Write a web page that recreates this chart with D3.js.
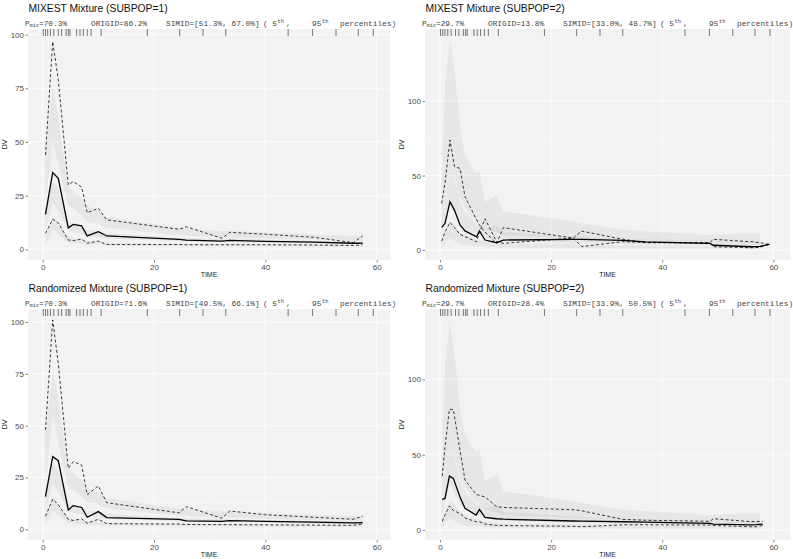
<!DOCTYPE html>
<html><head><meta charset="utf-8">
<script src="https://cdn.jsdelivr.net/npm/d3@7"></script>
<style>body{margin:0;background:#fff}svg{display:block}</style>
</head><body><svg id="c" width="793" height="559"></svg>
<script>
// ---------- data ----------
const rugTimes = [0.1,0.5,0.9,1.4,2.0,2.8,3.4,4.2,4.6,4.9,6.1,6.7,7.3,8.0,8.7,10.5,18.8,24.6,28.8,32.9,44.1,48.5,52.7,56.7,59.4];
const xTicks = [0,20,40,60];

// Top-left: MIXEST SUBPOP=1
const tlTitle = "MIXEST Mixture (SUBPOP=1)";
const tlStats = ["70.3%","86.2%","51.3%","67.0%"];
const tlTimes = [0.5,1.8,2.8,4.6,5.5,7.0,8.0,10.0,11.5,24.5,25.8,32.2,33.6,40,48.6,55.8,57.5];
const tlMedian = [16.3,35.7,33,10,11.6,10.9,6.2,8.2,6.2,4.6,4.3,3.8,4.1,3.7,3.3,2.8,2.9];
const tlP95 = [43.9,96.7,79,30,31.5,29,17,19.1,13.7,9.3,10.5,5.1,7.9,7.0,5.6,3.1,6.2];
const tlP5 = [7.4,14,12.3,4.3,4.0,4.8,2.8,3.8,2.2,2.2,2.1,2.1,2.1,2.1,2.0,1.8,2.1];
const tlRibTimes = [0.5,1.8,2.8,4.6,5.5,7.0,8.0,10.0,11.5,24.5,32.2,33.6,48.6,57.5];
const tlCI95Lo = [22,50,40,20,19,16,13,12,10,6.5,5.5,5.5,4.5,3.8];
const tlCI95Hi = [45,76,62,29,27,24,20,18,15,10,8.5,8.5,7,6];
const tlCI50Lo = [9,22,18,8.5,8,7,6,5.5,5,3.8,3.4,3.4,2.8,2.4];
const tlCI50Hi = [18,32,28,13,12,10.5,9,8.5,7.5,5.3,4.8,4.8,4,3.5];
const tlCI5Lo = [2,9,7,3,2.8,2.5,2.2,2,1.8,1.5,1.4,1.4,1.3,1.2];
const tlCI5Hi = [6,15,12,5.5,5,4.5,4,3.5,3.2,2.5,2.3,2.3,2.1,2];
const tlYTicks = [0,25,50,75,100];

// Top-right: MIXEST SUBPOP=2
const trTitle = "MIXEST Mixture (SUBPOP=2)";
const trStats = ["29.7%","13.8%","33.0%","48.7%"];
const trTimes = [0.3,0.9,1.8,2.6,3.6,4.5,6.6,7.1,8.1,10.2,11.4,24,25.5,32.9,37,48.6,49.2,56.2,57.6,59.3];
const trMedian = [15.2,17.9,32.4,26.8,16.8,12.8,8.9,12.8,6.7,4.9,6.7,7.2,7.2,6.5,5.5,4.5,3.2,2.2,2.5,3.8];
const trP95 = [31.3,45,73.8,55.9,54.8,35.8,20.1,17,12,4.5,15,8,12.7,7.2,5,5,7.2,5.5,4.9,3.8];
const trP5 = [6,12,18.5,15,10.5,9,5.5,12,21,5.5,4.5,8,2.3,5.6,5,4.5,2.2,1.5,1.8,3.8];
const trRibTimes = [0.3,0.9,1.8,2.6,3.6,4.5,6.6,7.1,8.1,10.2,11.4,24,32.9,48.6,57.6];
const trCI95Lo = [20,40,55,50,35,28,18,18,14,12,10,8,7,5.5,4.5];
const trCI95Hi = [40,110,141,120,83,63,51,53,32,37,26,19,13.4,10,11];
const trCI50Lo = [8,18,30,25,17,14,10,10,8,6.5,6,4.5,4,3.2,2.8];
const trCI50Hi = [20,38,55,48,32,26,17,17,14,17,12,9,7.5,6,5.5];
const trCI5Lo = [1,4,8,6,4,3,2.5,2.5,2,1.8,1.6,1.3,1.1,0.8,0.8];
const trCI5Hi = [6,12,20,17,12,10,7,7,6,5,4.5,3.8,3.2,2.5,2.2];
const trYTicks = [0,50,100];

// Bottom-left: Randomized SUBPOP=1
const blTitle = "Randomized Mixture (SUBPOP=1)";
const blStats = ["70.3%","71.6%","49.5%","66.1%"];
const blTimes = [0.5,1.8,2.8,4.6,5.5,7.0,8.0,10.0,11.5,24.5,25.8,32.2,33.6,40,48.6,55.8,57.5];
const blMedian = [15.7,35,33.1,9.3,11.4,10.5,5.8,8.5,5.6,4.8,4.0,3.8,4.2,3.8,3.4,3.1,3.2];
const blP95 = [47.9,101,80,29.4,32.6,31,16.7,20.9,12.8,7.9,10.9,5.3,8.8,7.0,5.8,4.8,6.3];
const blP5 = [6.3,14.5,11.8,4.8,4.2,5,2.9,4.8,2.7,2.5,2.3,2.2,2.2,2.1,2.0,1.9,2.5];
const blRibTimes = [0.5,1.8,2.8,4.6,5.5,7.0,8.0,10.0,11.5,24.5,32.2,33.6,48.6,57.5];
const blCI95Lo = [24,55,42,20,19,16,13,12,10,6.5,5.5,5.5,4.5,3.8];
const blCI95Hi = [46,76,64,29,27,24,20,18,15,10,8.5,8.5,7,6];
const blCI50Lo = [9,22,18,8.5,8,7,6,5.5,5,3.8,3.4,3.4,2.8,2.4];
const blCI50Hi = [18,32,28,13,12,10.5,9,8.5,7.5,5.3,4.8,4.8,4,3.5];
const blCI5Lo = [2,9,7,3,2.8,2.5,2.2,2,1.8,1.5,1.4,1.4,1.3,1.2];
const blCI5Hi = [6,15,12,5.5,5,4.5,4,3.5,3.2,2.5,2.3,2.3,2.1,2];
const blYTicks = [0,25,50,75,100];

// Bottom-right: Randomized SUBPOP=2
const brTitle = "Randomized Mixture (SUBPOP=2)";
const brStats = ["29.7%","28.4%","33.9%","50.5%"];
const brTimes = [0.4,0.9,1.7,2.4,3.6,4.5,6.5,7.1,8.1,10.2,11.4,24,25.5,32.9,37,48.6,49.2,56,57,58.1];
const brMedian = [20.4,21,35.8,34.3,22,14.4,10,13.7,8.4,7.5,7.2,6,5.9,5.5,5.2,4.5,4.0,3.5,3.6,4.0];
const brP95 = [35.8,55,80.1,80,53,33.2,23.7,23,22,15.5,15,13.5,12.8,7.1,6.5,5.8,7.5,5.6,5.7,5.7];
const brP5 = [5.8,10,16,13,11,8,5.5,5.5,4,3.1,3,2.5,2.2,3.5,3.5,3.3,3,2.2,2.2,3];
const brRibTimes = [0.3,0.9,1.8,2.6,3.6,4.5,6.6,7.1,8.1,10.2,11.4,24,32.9,48.6,57.6];
const brCI95Lo = [20,40,55,50,35,28,18,18,14,12,10,8,7,5.5,4.5];
const brCI95Hi = [40,108,138,118,80,63,51,53,32,37,26,19,13.4,10,11];
const brCI50Lo = [8,18,30,25,17,14,10,10,8,6.5,6,4.5,4,3.2,2.8];
const brCI50Hi = [20,38,55,48,32,26,17,17,14,17,12,9,7.5,6,5.5];
const brCI5Lo = [1,4,8,6,4,3,2.5,2.5,2,1.8,1.6,1.3,1.1,0.8,0.8];
const brCI5Hi = [6,12,20,17,12,10,7,7,6,5,4.5,3.8,3.2,2.5,2.2];
const brYTicks = [0,50,100];

// ---------- drawing ----------
const svg = d3.select("#c");
const panels = [
  {ox:0, oy:0, x0:28, x1:390, y0:29, y1:260, xd:[-2.64,62.4], yd:[-5,102.6], title:tlTitle, stats:tlStats,
   t:tlTimes, med:tlMedian, p95:tlP95, p5:tlP5, rt:tlRibTimes,
   rib:[[tlCI95Lo,tlCI95Hi],[tlCI50Lo,tlCI50Hi],[tlCI5Lo,tlCI5Hi]], yt:tlYTicks},
  {ox:397, oy:0, x0:425, x1:790, y0:29, y1:260, xd:[-2.7,63.0], yd:[-6.7,148.3], title:trTitle, stats:trStats,
   t:trTimes, med:trMedian, p95:trP95, p5:trP5, rt:trRibTimes,
   rib:[[trCI95Lo,trCI95Hi],[trCI50Lo,trCI50Hi],[trCI5Lo,trCI5Hi]], yt:trYTicks},
  {ox:0, oy:280, x0:28, x1:390, y0:309, y1:540, xd:[-2.64,62.4], yd:[-5.2,106.3], title:blTitle, stats:blStats,
   t:blTimes, med:blMedian, p95:blP95, p5:blP5, rt:blRibTimes,
   rib:[[blCI95Lo,blCI95Hi],[blCI50Lo,blCI50Hi],[blCI5Lo,blCI5Hi]], yt:blYTicks},
  {ox:397, oy:280, x0:425, x1:790, y0:309, y1:540, xd:[-2.7,63.0], yd:[-6.6,146.7], title:brTitle, stats:brStats,
   t:brTimes, med:brMedian, p95:brP95, p5:brP5, rt:brRibTimes,
   rib:[[brCI95Lo,brCI95Hi],[brCI50Lo,brCI50Hi],[brCI5Lo,brCI5Hi]], yt:brYTicks}
];

panels.forEach((p,i) => {
  const x = d3.scaleLinear().domain(p.xd).range([p.x0,p.x1]);
  const y = d3.scaleLinear().domain(p.yd).range([p.y1,p.y0]);
  const g = svg.append("g");
  g.append("rect").attr("x",p.x0).attr("y",p.y0).attr("width",p.x1-p.x0).attr("height",p.y1-p.y0).attr("fill","#f2f2f2");
  const xMinor = xTicks.slice(0,-1).map((d,k)=>(d+xTicks[k+1])/2);
  const yMinor = p.yt.slice(0,-1).map((d,k)=>(d+p.yt[k+1])/2);
  xMinor.forEach(v=>g.append("line").attr("x1",x(v)).attr("x2",x(v)).attr("y1",p.y0).attr("y2",p.y1).attr("stroke","#fafafa").attr("stroke-width",0.5));
  yMinor.forEach(v=>g.append("line").attr("y1",y(v)).attr("y2",y(v)).attr("x1",p.x0).attr("x2",p.x1).attr("stroke","#fafafa").attr("stroke-width",0.5));
  xTicks.forEach(v=>g.append("line").attr("x1",x(v)).attr("x2",x(v)).attr("y1",p.y0).attr("y2",p.y1).attr("stroke","#fcfcfc").attr("stroke-width",1));
  p.yt.forEach(v=>g.append("line").attr("y1",y(v)).attr("y2",y(v)).attr("x1",p.x0).attr("x2",p.x1).attr("stroke","#fcfcfc").attr("stroke-width",1));

  const area = d3.area().x((d)=>x(d[0])).y0(d=>y(d[1])).y1(d=>y(d[2]));
  p.rib.forEach(([lo,hi])=>{
    const dat = p.rt.map((t,k)=>[t,lo[k],hi[k]]);
    g.append("path").attr("d",area(dat)).attr("fill","#8c8c8c").attr("fill-opacity",0.115);
  });
  const line = d3.line().x(d=>x(d[0])).y(d=>y(d[1]));
  const mk = arr => p.t.map((t,k)=>[t,arr[k]]);
  g.append("path").attr("d",line(mk(p.p95))).attr("fill","none").attr("stroke","#000").attr("stroke-width",0.75).attr("stroke-dasharray","3,2.2");
  g.append("path").attr("d",line(mk(p.p5))).attr("fill","none").attr("stroke","#000").attr("stroke-width",0.75).attr("stroke-dasharray","3,2.2");
  g.append("path").attr("d",line(mk(p.med))).attr("fill","none").attr("stroke","#000").attr("stroke-width",1.3);

  rugTimes.forEach(t=>g.append("line").attr("x1",x(t)).attr("x2",x(t)).attr("y1",p.y0).attr("y2",p.y0+7).attr("stroke","#222").attr("stroke-width",0.6));

  const ax = g.append("g").attr("transform",`translate(0,${p.y1})`).call(d3.axisBottom(x).tickValues(xTicks).tickSize(2.5).tickPadding(1.5));
  const ay = g.append("g").attr("transform",`translate(${p.x0},0)`).call(d3.axisLeft(y).tickValues(p.yt).tickSize(2.5).tickPadding(1.5));
  [ax,ay].forEach(a=>{
    a.select(".domain").remove();
    a.selectAll(".tick line").attr("stroke","#333").attr("stroke-width",0.6);
    a.selectAll(".tick text").attr("fill","#4d4d4d").attr("font-family","Liberation Sans, Arial, sans-serif").attr("font-size",8);
  });
  g.append("text").attr("x",(p.x0+p.x1)/2).attr("y",p.y1+16.5).attr("text-anchor","middle")
    .attr("font-family","Liberation Sans, Arial, sans-serif").attr("font-size",7).attr("fill","#222").text("TIME");
  g.append("text").attr("transform",`translate(${p.ox+7},${(p.y0+p.y1)/2}) rotate(-90)`).attr("text-anchor","middle")
    .attr("font-family","Liberation Sans, Arial, sans-serif").attr("font-size",7).attr("fill","#222").text("DV");

  g.append("text").attr("x",p.ox+28.5).attr("y",p.oy+11.5).attr("font-family","Liberation Sans, Arial, sans-serif")
    .attr("font-size",10.3).attr("fill","#111").text(p.title);

  // subtitle: one text element with tspans
  const sy = p.oy+25.5, bx = p.ox;
  const sub = g.append("text").attr("y",sy).attr("font-family","Liberation Mono, Courier New, monospace")
    .attr("font-size",7.8).attr("fill","#444");
  const piece = (dx, txt, fs, yoff) => {
    sub.append("tspan").attr("x",bx+dx).attr("y",sy+(yoff||0)).attr("font-size",fs||7.8).text(txt);
  };
  piece(25,"P");
  piece(29.5,"mix",5.3,1.5);
  piece(39,"="+p.stats[0]);
  piece(91,"ORIGID="+p.stats[1]);
  piece(166,"SIMID=["+p.stats[2]+", "+p.stats[3]+"]");
  piece(263,"( 5");
  piece(277.5,"th",5.3,-3);
  piece(286,",");
  piece(312,"95");
  piece(322,"th",5.3,-3);
  piece(340,"percentiles)");
});
</script></body></html>
